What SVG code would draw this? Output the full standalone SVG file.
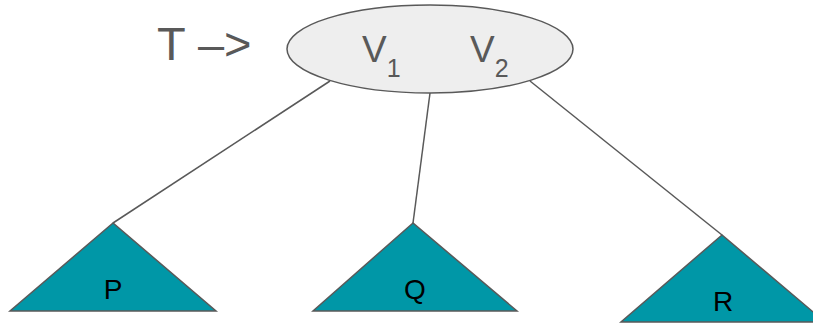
<svg xmlns="http://www.w3.org/2000/svg" width="813" height="324" viewBox="0 0 813 324">
<style>
.edge{stroke:#595959;stroke-width:1.5;fill:none}
.tri{fill:#0097a7;stroke:#595959;stroke-width:1.5}
.lbl{font-family:"Liberation Sans",Arial,sans-serif;fill:#000;font-size:28px;text-anchor:middle}
.big{font-family:"Liberation Sans",Arial,sans-serif;fill:#595959}
</style>
<rect width="813" height="324" fill="#fff"/>
<g id="connectors">
<line class="edge" x1="330" y1="81" x2="113" y2="223"/>
<line class="edge" x1="430" y1="93" x2="413" y2="223"/>
<line class="edge" x1="530" y1="81" x2="722" y2="235"/>
</g>
<g id="pointer">
<text class="big" x="157" y="60" font-size="47">T –&gt;</text>
</g>
<g id="root">
<ellipse cx="430" cy="49" rx="143" ry="44" fill="#eeeeee" stroke="#595959" stroke-width="1.5"/>
<text class="big" x="362" y="62" font-size="37">V<tspan font-size="25" dy="15">1</tspan></text>
<text class="big" x="470" y="62" font-size="37">V<tspan font-size="25" dy="15">2</tspan></text>
</g>
<g id="P">
<polygon class="tri" points="113,223 10,311 216,311"/>
<text class="lbl" x="113" y="299">P</text>
</g>
<g id="Q">
<polygon class="tri" points="413,223 313,311 517,311"/>
<text class="lbl" x="415" y="299">Q</text>
</g>
<g id="R">
<polygon class="tri" points="722,235 621,322 825,322"/>
<text class="lbl" x="723" y="311">R</text>
</g>
</svg>
